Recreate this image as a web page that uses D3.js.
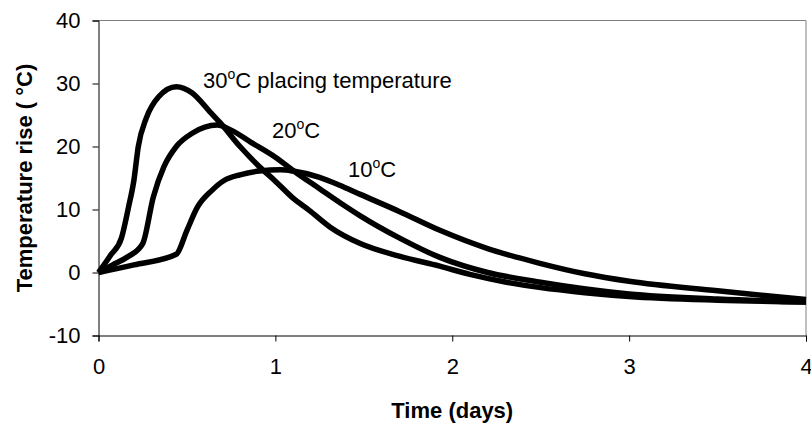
<!DOCTYPE html>
<html>
<head>
<meta charset="utf-8">
<script src="https://cdn.jsdelivr.net/npm/d3@7/dist/d3.min.js"></script>
<style>
  html, body { margin: 0; padding: 0; background: #fff; }
  svg { display: block; font-family: Arial, "Liberation Sans", sans-serif; }
</style>
</head>
<body>
<svg id="chart" width="811" height="425"></svg>
<script>
// Temperature rise of concrete over time for three placing temperatures
const xTicks = [0, 1, 2, 3, 4];
const yTicks = [-10, 0, 10, 20, 30, 40];

const time30 = [0, 0.07, 0.13, 0.17, 0.20, 0.225, 0.27, 0.34, 0.44, 0.53, 0.63, 0.69, 0.80, 0.91, 1.0, 1.1, 1.19, 1.31, 1.48, 1.7, 1.93, 2.1, 2.3, 2.5, 2.75, 3.0, 3.5, 4.0];
const rise30 = [0, 2.8, 5.5, 10.4, 14.6, 20, 24.5, 27.9, 29.5, 28.5, 25.5, 23.7, 20, 16.8, 14.5, 11.8, 9.9, 7.2, 4.6, 2.6, 1.0, -0.3, -1.5, -2.4, -3.2, -3.8, -4.4, -4.7];

const time20 = [0, 0.08, 0.16, 0.25, 0.31, 0.37, 0.44, 0.53, 0.67, 0.75, 0.86, 1.0, 1.1, 1.25, 1.37, 1.48, 1.7, 1.93, 2.2, 2.49, 3.0, 3.5, 4.0];
const rise20 = [0, 1.2, 2.4, 4.6, 12, 16.8, 20, 22.1, 23.4, 22.6, 20.7, 18.3, 16.2, 13.3, 11.0, 9.0, 5.5, 2.4, 0, -1.5, -3.4, -4.2, -4.7];

const time10 = [0, 0.2, 0.44, 0.5, 0.56, 0.64, 0.71, 0.8, 0.91, 1.03, 1.1, 1.25, 1.36, 1.48, 1.7, 1.93, 2.2, 2.49, 2.75, 3.0, 3.5, 4.0];
const rise10 = [0, 1.2, 2.9, 6.7, 10.4, 13, 14.6, 15.5, 16.1, 16.3, 16.1, 15.1, 13.9, 12.4, 9.7, 6.7, 3.8, 1.5, -0.2, -1.4, -2.9, -4.3];

const seriesLabels = ["30", "20", "10"];

const svg = d3.select("#chart");
const margin = { left: 98.5, right: 5, top: 20.5, bottom: 89.5 };
const W = 811, H = 425;

const x = d3.scaleLinear().domain([0, 4]).range([margin.left, W - margin.right]);
const y = d3.scaleLinear().domain([-10, 40]).range([H - margin.bottom, margin.top]);

// plot area frame (top and right)
svg.append("path")
  .attr("d", `M${x(0)},${y(40)}H${x(4)}V${y(-10)}`)
  .attr("fill", "none").attr("stroke", "#808080").attr("stroke-width", 1);

const fmt = d => String(d);

// y axis
const yAxis = svg.append("g")
  .attr("transform", `translate(${x(0)},0)`)
  .call(d3.axisLeft(y).tickValues(yTicks).tickSize(6).tickPadding(12).tickFormat(fmt));
yAxis.select(".domain").attr("stroke", "#000");
yAxis.selectAll(".tick line").attr("stroke", "#000");
yAxis.selectAll("text").attr("font-size", 22).attr("fill", "#000")
  .attr("font-family", "Arial, 'Liberation Sans', sans-serif");

// x axis
const xAxis = svg.append("g")
  .attr("transform", `translate(0,${y(-10)})`)
  .call(d3.axisBottom(x).tickValues(xTicks).tickSize(6).tickPadding(17).tickFormat(fmt));
xAxis.select(".domain").attr("stroke", "#000");
xAxis.selectAll(".tick line").attr("stroke", "#000");
xAxis.selectAll("text").attr("font-size", 22).attr("fill", "#000")
  .attr("font-family", "Arial, 'Liberation Sans', sans-serif");

// axis titles
svg.append("text")
  .attr("x", x(2)).attr("y", 418)
  .attr("text-anchor", "middle")
  .attr("font-size", 22).attr("font-weight", "bold")
  .text("Time (days)");

svg.append("text")
  .attr("transform", `translate(32,${(y(40) + y(-10)) / 2}) rotate(-90)`)
  .attr("text-anchor", "middle")
  .attr("font-size", 22).attr("font-weight", "bold")
  .text("Temperature rise ( °C)");

// curves
const line = d3.line()
  .x(d => x(d[0]))
  .y(d => y(d[1]))
  .curve(d3.curveMonotoneX);

const series = [
  d3.zip(time30, rise30),
  d3.zip(time20, rise20),
  d3.zip(time10, rise10)
];

svg.append("g").selectAll("path")
  .data(series)
  .join("path")
  .attr("d", line)
  .attr("fill", "none")
  .attr("stroke", "#000")
  .attr("stroke-width", 5.5)
  .attr("stroke-linejoin", "round");

// curve labels
const labelPos = [
  { x: 203, y: 88, suffix: " placing temperature" },
  { x: 272, y: 138, suffix: "" },
  { x: 348, y: 177, suffix: "" }
];
labelPos.forEach((p, i) => {
  const t = svg.append("text")
    .attr("x", p.x).attr("y", p.y)
    .attr("font-size", 22).attr("fill", "#000");
  t.append("tspan").text(seriesLabels[i]);
  t.append("tspan").attr("font-size", 14).attr("dy", -9).text("o");
  t.append("tspan").attr("dy", 9).text("C" + p.suffix);
});
</script>
</body>
</html>
